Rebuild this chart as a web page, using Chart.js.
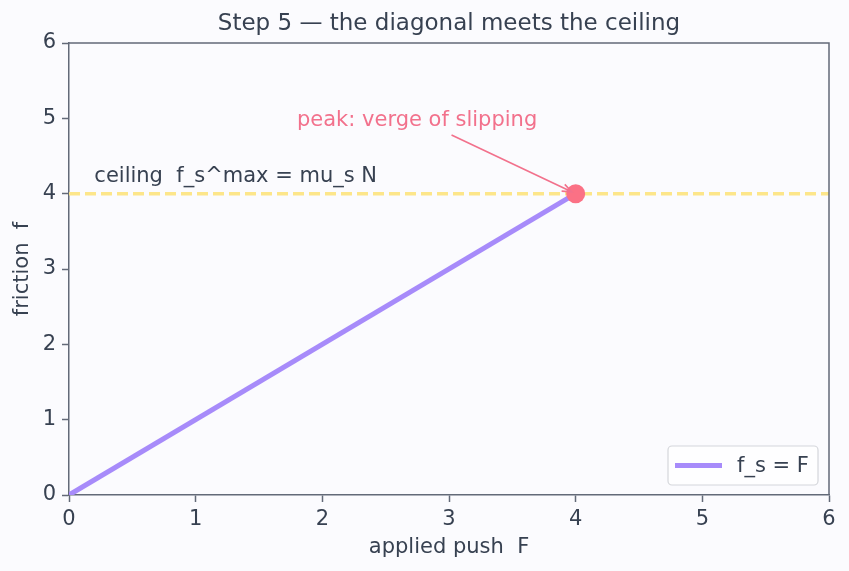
<!DOCTYPE html>
<html><head><meta charset="utf-8">
<script src="https://cdn.jsdelivr.net/npm/chart.js@4/dist/chart.umd.min.js"></script>
<style>html,body{margin:0;padding:0;background:#fbfbfe;}canvas{display:block;}</style>
</head><body>
<canvas id="c" width="849" height="571"></canvas>
<script>
const titleText = 'Step 5 — the diagonal meets the ceiling';
const xLabel = 'applied push  F';
const yLabel = 'friction  f';
const xTickValues = [0, 1, 2, 3, 4, 5, 6];
const yTickValues = [0, 1, 2, 3, 4, 5, 6];
const diagonalPush = [0, 4];
const diagonalFriction = [0, 4];
const ceilingPush = [0, 6];
const ceilingFriction = [4, 4];
const peakPush = [4];
const peakFriction = [4];
const seriesLabel = 'f_s = F';
const ceilingText = 'ceiling  f_s^max = mu_s N';
const ceilingTextAt = [0.2, 4.15];
const peakText = 'peak: verge of slipping';
const peakTextAt = [1.8, 4.9];
const arrowFrom = [3.02, 4.78];
const arrowTo = [4, 4];

const FONT = "'DejaVu Sans', sans-serif";
const FS = 21;
const TEXT = '#374151';
const SPINE = '#636a78';
const PURPLE = '#a78bfa';
const PINK = '#fb7185';
const PINK_TEXT = '#f2718c';
const AMBER = '#fde68a';
const BG = '#fbfbfe';

const zip = (xs, ys) => xs.map((x, i) => ({x: x, y: ys[i]}));

const bgPlugin = {
  id: 'bg',
  beforeDraw(chart) {
    const ctx = chart.ctx;
    ctx.save();
    ctx.fillStyle = BG;
    ctx.fillRect(0, 0, chart.width, chart.height);
    ctx.restore();
  }
};

const framePlugin = {
  id: 'frame',
  afterDraw(chart) {
    const {ctx, chartArea: a, scales} = chart;
    const sx = scales.x, sy = scales.y;
    ctx.save();
    ctx.strokeStyle = SPINE;
    ctx.lineWidth = 1.5;
    ctx.beginPath();
    ctx.moveTo(a.left, a.top);
    ctx.lineTo(a.right, a.top);
    ctx.lineTo(a.right, a.bottom);
    ctx.stroke();

    ctx.font = '23px ' + FONT;
    ctx.fillStyle = TEXT;
    ctx.textAlign = 'center';
    ctx.textBaseline = 'middle';
    ctx.fillText(titleText, (a.left + a.right) / 2, 24);

    ctx.font = FS + 'px ' + FONT;
    ctx.fillStyle = TEXT;
    ctx.textAlign = 'left';
    ctx.textBaseline = 'alphabetic';
    ctx.fillText(ceilingText, sx.getPixelForValue(ceilingTextAt[0]), sy.getPixelForValue(ceilingTextAt[1]));

    ctx.fillStyle = PINK_TEXT;
    ctx.fillText(peakText, sx.getPixelForValue(peakTextAt[0]), sy.getPixelForValue(peakTextAt[1]));

    const x0 = sx.getPixelForValue(arrowFrom[0]), y0 = sy.getPixelForValue(arrowFrom[1]);
    const px = sx.getPixelForValue(arrowTo[0]), py = sy.getPixelForValue(arrowTo[1]);
    const dx = px - x0, dy = py - y0, len = Math.hypot(dx, dy);
    const ux = dx / len, uy = dy / len;
    const x1 = px - ux * 4.5, y1 = py - uy * 4.5;
    ctx.strokeStyle = PINK_TEXT;
    ctx.lineWidth = 1.6;
    ctx.beginPath();
    ctx.moveTo(x0, y0);
    ctx.lineTo(x1, y1);
    const hl = 10, ang = 0.38;
    const ca = Math.cos(ang), sa = Math.sin(ang);
    const bx1 = x1 - hl * (ux * ca - uy * sa), by1 = y1 - hl * (uy * ca + ux * sa);
    const bx2 = x1 - hl * (ux * ca + uy * sa), by2 = y1 - hl * (uy * ca - ux * sa);
    ctx.moveTo(bx1, by1);
    ctx.lineTo(x1, y1);
    ctx.lineTo(bx2, by2);
    ctx.stroke();

    const bw = 150, bh = 39;
    const bx = a.right - 11 - bw, by = a.bottom - 10 - bh;
    ctx.fillStyle = 'rgba(255,255,255,0.8)';
    ctx.strokeStyle = '#d4d6db';
    ctx.lineWidth = 1.2;
    ctx.beginPath();
    ctx.roundRect(bx, by, bw, bh, 4);
    ctx.fill();
    ctx.stroke();
    const ds = chart.data.datasets[1];
    ctx.strokeStyle = ds.borderColor;
    ctx.lineWidth = ds.borderWidth;
    ctx.beginPath();
    ctx.moveTo(bx + 7, by + bh / 2);
    ctx.lineTo(bx + 54, by + bh / 2);
    ctx.stroke();
    ctx.fillStyle = TEXT;
    ctx.font = FS + 'px ' + FONT;
    ctx.textBaseline = 'middle';
    ctx.fillText(ds.label, bx + 69, by + bh / 2 + 1);
    ctx.restore();
  }
};

new Chart(document.getElementById('c'), {
  type: 'scatter',
  data: {
    datasets: [
      {
        label: 'ceiling',
        data: zip(ceilingPush, ceilingFriction),
        showLine: true,
        borderColor: AMBER,
        borderWidth: 3.5,
        borderDash: [11, 5],
        pointRadius: 0,
        clip: 0,
        order: 3
      },
      {
        label: seriesLabel,
        data: zip(diagonalPush, diagonalFriction),
        showLine: true,
        borderColor: PURPLE,
        backgroundColor: PURPLE,
        borderWidth: 5,
        pointRadius: 0,
        clip: 0,
        order: 2
      },
      {
        label: 'peak',
        data: zip(peakPush, peakFriction),
        pointRadius: 9.5,
        pointBackgroundColor: PINK,
        pointBorderWidth: 0,
        borderWidth: 0,
        clip: false,
        order: 1
      }
    ]
  },
  options: {
    responsive: false,
    animation: false,
    devicePixelRatio: 1,
    layout: {padding: {left: 0, right: 20, top: 43, bottom: 0}},
    plugins: {
      legend: {display: false},
      tooltip: {enabled: false},
      title: {display: false}
    },
    scales: {
      x: {
        type: 'linear',
        min: 0, max: 6,
        afterBuildTicks(s) { s.ticks = xTickValues.map(v => ({value: v})); },
        afterFit(s) { s.height = 76; s.paddingLeft = 0; s.paddingRight = 0; },
        ticks: {color: TEXT, font: {family: FONT, size: FS}, padding: 5, maxRotation: 0},
        grid: {drawOnChartArea: false, drawTicks: true, tickLength: 7, tickColor: SPINE, tickWidth: 1.5},
        border: {display: true, color: SPINE, width: 1.5},
        title: {display: true, text: xLabel, color: TEXT, font: {family: FONT, size: FS}, padding: {top: 0, bottom: 11}}
      },
      y: {
        type: 'linear',
        min: 0, max: 6,
        afterBuildTicks(s) { s.ticks = yTickValues.map(v => ({value: v})); },
        afterFit(s) { s.width = 69; s.paddingTop = 0; s.paddingBottom = 0; },
        ticks: {color: TEXT, font: {family: FONT, size: FS}, padding: 6},
        grid: {drawOnChartArea: false, drawTicks: true, tickLength: 7, tickColor: SPINE, tickWidth: 1.5},
        border: {display: true, color: SPINE, width: 1.5},
        title: {display: true, text: yLabel, color: TEXT, font: {family: FONT, size: FS}, padding: {top: 10, bottom: 0}}
      }
    }
  },
  plugins: [bgPlugin, framePlugin]
});
</script>
</body></html>
